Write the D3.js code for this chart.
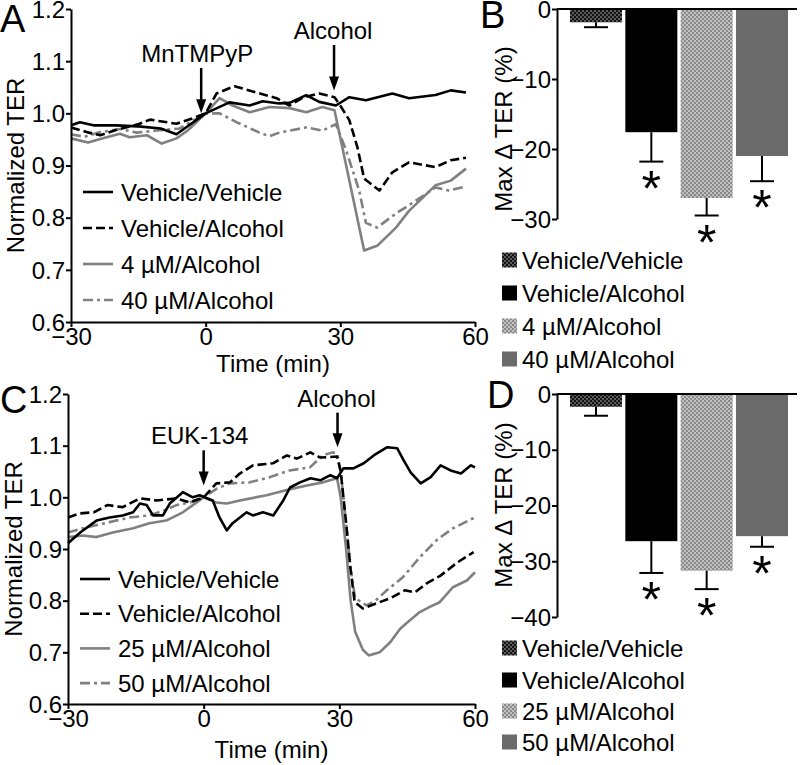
<!DOCTYPE html>
<html><head><meta charset="utf-8">
<script src="https://cdn.jsdelivr.net/npm/d3@7"></script>
<style>
body{margin:0;background:#fff}
svg{display:block;font-family:"Liberation Sans",Arial,sans-serif}
</style>
</head><body>
<svg id="chart" width="800" height="765"></svg>
<script>
// ---------- DATA ----------
const timeTicks = [-30, 0, 30, 60];
const terTicks = [0.6, 0.7, 0.8, 0.9, 1.0, 1.1, 1.2];

// Panel A (MnTMPyP)
const seriesA = ["Vehicle/Vehicle", "Vehicle/Alcohol", "4 µM/Alcohol", "40 µM/Alcohol"];
const aVehVehT = [-30,-28,-25,-20,-15,-10,-6.5,0,3,5.3,9.8,12.7,16.4,18.7,22.4,25.3,29,32,35.7,41.6,45.3,51.2,54.6,58];
const aVehVehV = [0.977,0.983,0.977,0.977,0.975,0.971,0.960,1.0,1.012,1.021,1.015,1.023,1.019,1.02,1.035,1.022,1.015,1.031,1.025,1.038,1.029,1.035,1.044,1.040];
const aVehAlcT = [-30,-26,-23.5,-20,-14.7,-12.4,-6.5,-3,0,2.4,6.4,11.3,15.8,18.7,21.6,25.3,28.7,30.2,32,33.8,35.3,38.7,41.6,45.3,51.2,54.6,58];
const aVehAlcV = [0.973,0.963,0.958,0.968,0.98,0.988,0.98,0.99,1.0,1.038,1.052,1.04,1.029,1.015,1.03,1.038,1.031,1.012,0.987,0.935,0.875,0.852,0.887,0.906,0.897,0.91,0.915];
const a4uMT = [-30,-26.2,-22.9,-19.1,-16.9,-13.1,-9.8,-6.5,-4,0,3.1,6,9.8,14.2,18.7,22.4,26,28.7,35.3,38.2,42.4,45.3,51.2,54.6,58];
const a4uMV = [0.952,0.944,0.952,0.961,0.954,0.958,0.942,0.952,0.967,1.0,1.029,1.015,1.002,1.012,1.01,1.002,1.012,1.006,0.737,0.746,0.781,0.813,0.862,0.871,0.894];
const a40uMT = [-30,-27,-24,-19,-15.3,-11,-5.8,0,3.1,6.9,12,14.2,16.4,22.4,26,29,31.3,34.2,35.7,38.2,42.4,46.9,51.2,54.2,58];
const a40uMV = [0.96,0.955,0.963,0.97,0.963,0.967,0.971,1.0,1.0,0.983,0.963,0.956,0.963,0.973,0.967,0.979,0.929,0.852,0.79,0.781,0.808,0.833,0.858,0.852,0.86];

// Panel C (EUK-134)
const seriesC = ["Vehicle/Vehicle", "Vehicle/Alcohol", "25 µM/Alcohol", "50 µM/Alcohol"];
const cVehVehT = [-30,-27.3,-23.7,-20.8,-17.9,-15.6,-14.1,-12.6,-11.2,-9,-7.5,-4.6,-2.4,-0.9,2,3.5,5.1,6.4,9.5,10.9,13.1,15.4,17.6,19.1,21.3,23.6,25.8,28,29.5,30.9,33.1,35.4,37.6,40.6,42.8,44.2,45.8,48,50.2,52.4,54.6,56.9,59.1,60];
const cVehVehV = [0.911,0.932,0.955,0.961,0.965,0.971,0.988,0.985,0.965,0.965,0.988,1.01,1.0,1.004,0.994,0.961,0.936,0.95,0.971,0.965,0.971,0.965,0.994,1.019,1.029,1.037,1.033,1.043,1.037,1.056,1.056,1.066,1.081,1.097,1.095,1.072,1.048,1.027,1.039,1.062,1.052,1.046,1.062,1.058];
const cVehAlcT = [-30,-27.3,-24.3,-21.3,-17.9,-14.1,-10.4,-6,-3.1,0,2.8,5.8,8,10.9,15.4,18.4,20.6,23.6,25.8,29.5,30.3,31.5,32.5,33.4,35.2,38.3,41.3,44.5,46.7,49.4,52.3,56.1,59.7];
const cVehAlcV = [0.961,0.969,0.971,0.985,0.981,0.998,0.994,0.998,0.99,1.0,1.027,1.029,1.046,1.062,1.066,1.081,1.075,1.087,1.077,1.079,1.05,0.95,0.86,0.797,0.785,0.795,0.805,0.82,0.816,0.834,0.848,0.874,0.894];
const c25uMT = [-30,-26.7,-23.7,-20.1,-15.6,-12,-8.3,-4.6,-2.4,0,2.8,5.1,8,13.9,18.4,22.8,26.4,29.5,30.3,31.5,32.5,33.5,35.2,36.5,38.9,41.3,43.4,45.6,47.8,50,52.2,55.1,58.2,60];
const c25uMV = [0.923,0.926,0.923,0.932,0.94,0.95,0.955,0.971,0.985,1.0,0.99,0.988,0.994,1.004,1.014,1.023,1.029,1.037,1.0,0.9,0.8,0.74,0.705,0.694,0.70,0.72,0.745,0.762,0.778,0.788,0.797,0.826,0.839,0.855];
const c50uMT = [-30,-26.7,-20.8,-16.4,-12,-8.6,-6,-3.1,0,2.9,5.8,10.2,14.6,19,23.5,26.3,28.5,29.5,30.3,31.5,32.5,33.5,36,38,40.5,44,47.8,51.5,55.1,59.5,60];
const c50uMV = [0.932,0.94,0.952,0.961,0.965,0.975,0.985,0.99,1.0,1.017,1.027,1.029,1.039,1.052,1.058,1.081,1.087,1.085,1.05,0.95,0.86,0.805,0.791,0.80,0.82,0.845,0.884,0.917,0.94,0.959,0.961];

// Panel B
const barCatsB = ["Vehicle/Vehicle", "Vehicle/Alcohol", "4 µM/Alcohol", "40 µM/Alcohol"];
const barMeanB = [-1.9, -17.6, -27.0, -21.0];
const barSemB = [0.7, 4.2, 2.5, 3.6];
const barSigB = [false, true, true, true];
const barTicksB = [0, -10, -20, -30];

// Panel D
const barCatsD = ["Vehicle/Vehicle", "Vehicle/Alcohol", "25 µM/Alcohol", "50 µM/Alcohol"];
const barMeanD = [-2.3, -26.4, -31.7, -25.5];
const barSemD = [1.6, 5.7, 3.3, 1.9];
const barSigD = [false, true, true, true];
const barTicksD = [0, -10, -20, -30, -40];

// ---------- DRAWING ----------
const svg = d3.select("#chart");
const FS = 24;
const GRAY = "#808080";

const defs = svg.append("defs");
function checker(id, bg, dot) {
  const p = defs.append("pattern").attr("id", id).attr("patternUnits", "userSpaceOnUse")
    .attr("width", 4).attr("height", 4);
  p.append("rect").attr("width", 4).attr("height", 4).attr("fill", bg);
  p.append("rect").attr("x", 0).attr("y", 0).attr("width", 2).attr("height", 2).attr("fill", dot);
  p.append("rect").attr("x", 2).attr("y", 2).attr("width", 2).attr("height", 2).attr("fill", dot);
}
checker("patDark", "#141414", "#5a5a5a");
checker("patLight", "#c0c0c0", "#8a8a8a");
const barFills = ["url(#patDark)", "#000", "url(#patLight)", "#6b6b6b"];

const lineStyles = [
  {stroke: "#000", dash: null},
  {stroke: "#000", dash: "9,4"},
  {stroke: GRAY, dash: null},
  {stroke: GRAY, dash: "10,4,3,4"}
];

function styleAxis(g) {
  g.select(".domain").attr("stroke", "#000").attr("stroke-width", 2);
  g.selectAll(".tick line").attr("stroke", "#000").attr("stroke-width", 2);
  g.selectAll(".tick text").attr("fill", "#000").style("font-size", FS + "px")
    .style("font-family", "'Liberation Sans', Arial, sans-serif");
}

function arrow(g, x, yTail, yTip) {
  g.append("line").attr("x1", x).attr("x2", x).attr("y1", yTail).attr("y2", yTip - 10)
    .attr("stroke", "#000").attr("stroke-width", 2.5);
  g.append("path").attr("d", `M${x - 5},${yTip - 14}L${x + 5},${yTip - 14}L${x},${yTip}Z`).attr("fill", "#000");
}

function linePanel(cfg) {
  const g = svg.append("g");
  const x = d3.scaleLinear().domain([-30, 60]).range([cfg.x0, cfg.x1]);
  const y = d3.scaleLinear().domain([0.6, 1.2]).range([cfg.yb, cfg.yt]);

  const line = d3.line().x(d => x(d[0])).y(d => y(d[1]));
  const order = [3, 2, 1, 0];
  order.forEach(i => {
    const s = cfg.series[i];
    g.append("path").datum(d3.zip(s.t, s.v)).attr("d", line)
      .attr("fill", "none").attr("stroke", lineStyles[i].stroke).attr("stroke-width", 2.6)
      .attr("stroke-dasharray", lineStyles[i].dash).attr("stroke-linejoin", "round");
  });

  const gx = g.append("g").attr("transform", `translate(0,${cfg.yb})`)
    .call(d3.axisBottom(x).tickValues(timeTicks).tickFormat(d3.format("d")).tickSize(5).tickSizeOuter(0).tickPadding(0));
  styleAxis(gx);
  gx.selectAll(".tick text").attr("dy", "0.74em");
  const gy = g.append("g").attr("transform", `translate(${cfg.x0},0)`)
    .call(d3.axisLeft(y).tickValues(terTicks).tickFormat(d3.format(".1f")).tickSize(5).tickSizeOuter(0).tickPadding(1));
  styleAxis(gy);
  gy.selectAll(".tick text").attr("dy", "0.34em");

  g.append("text").attr("x", (cfg.x0 + cfg.x1) / 2).attr("y", cfg.xTitleY).attr("text-anchor", "middle")
    .style("font-size", FS + "px").text("Time (min)");
  g.append("text").attr("transform", `translate(${cfg.yTitleX},${(cfg.yb + cfg.yt) / 2}) rotate(-90)`)
    .attr("text-anchor", "middle").style("font-size", FS + "px").text("Normalized TER");

  g.append("text").attr("x", cfg.letterX).attr("y", cfg.letterY).style("font-size", "38px").text(cfg.letter);

  cfg.notes.forEach(n => {
    arrow(g, x(n.t), y(n.tail), y(n.tip));
    g.append("text").attr("x", x(n.t) + n.dx).attr("y", y(n.tail) - 6).attr("text-anchor", "middle")
      .style("font-size", FS + "px").text(n.label);
  });

  cfg.names.forEach((name, i) => {
    const ly = cfg.legY + i * cfg.legStep;
    g.append("line").attr("x1", cfg.legX).attr("x2", cfg.legX + 30).attr("y1", ly).attr("y2", ly)
      .attr("stroke", lineStyles[i].stroke).attr("stroke-width", 2.6).attr("stroke-dasharray", lineStyles[i].dash);
    g.append("text").attr("x", cfg.legX + 38).attr("y", ly + 8.5).style("font-size", FS + "px").text(name);
  });
}

function barPanel(cfg) {
  const g = svg.append("g");
  const x = d3.scaleBand().domain(cfg.cats).range([557, 801]).paddingInner(0.06).paddingOuter(0.235);
  const y = d3.scaleLinear().domain([cfg.ymin, 0]).range([cfg.yb, cfg.yt]);
  const bw = x.bandwidth();

  cfg.cats.forEach((c, i) => {
    const v = cfg.mean[i], e = cfg.sem[i];
    const cx = x(c) + bw / 2;
    g.append("rect").attr("x", x(c)).attr("y", y(0)).attr("width", bw).attr("height", y(v) - y(0))
      .attr("fill", barFills[i]);
    g.append("line").attr("x1", cx).attr("x2", cx).attr("y1", y(v)).attr("y2", y(v - e))
      .attr("stroke", "#000").attr("stroke-width", 2);
    g.append("line").attr("x1", cx - 12).attr("x2", cx + 12).attr("y1", y(v - e)).attr("y2", y(v - e))
      .attr("stroke", "#000").attr("stroke-width", 2);
    if (cfg.sig[i]) {
      g.append("text").attr("x", cx).attr("y", y(v - e) + 44).attr("text-anchor", "middle")
        .style("font-size", "50px").text("*");
    }
  });

  g.append("line").attr("x1", 557).attr("x2", 797).attr("y1", y(0)).attr("y2", y(0))
    .attr("stroke", "#000").attr("stroke-width", 2);
  const gy = g.append("g").attr("transform", "translate(557,0)")
    .call(d3.axisLeft(y).tickValues(cfg.ticks).tickFormat(d3.format("d")).tickSize(5).tickSizeOuter(0).tickPadding(1));
  styleAxis(gy);
  gy.selectAll(".tick text").attr("dy", "0.34em");

  g.append("text").attr("transform", `translate(512,${cfg.yTitleC}) rotate(-90)`)
    .attr("text-anchor", "middle").style("font-size", FS + "px").text("Max \u0394 TER (%)");

  g.append("text").attr("x", cfg.letterX).attr("y", cfg.letterY).style("font-size", "38px").text(cfg.letter);

  cfg.cats.forEach((c, i) => {
    const cy = cfg.legY[i];
    g.append("rect").attr("x", 502).attr("y", cy - 7.5).attr("width", 15).attr("height", 15).attr("fill", barFills[i]);
    g.append("text").attr("x", 522).attr("y", cy + 8.5).style("font-size", FS + "px").text(c);
  });
}

linePanel({
  x0: 71, x1: 475, yb: 322, yt: 9, xTitleY: 372, yTitleX: 24,
  letter: "A", letterX: 0, letterY: 32,
  series: [{t: aVehVehT, v: aVehVehV}, {t: aVehAlcT, v: aVehAlcV}, {t: a4uMT, v: a4uMV}, {t: a40uMT, v: a40uMV}],
  names: seriesA,
  notes: [{t: -1, tail: 1.087, tip: 1.0, label: "MnTMPyP", dx: -4},
          {t: 28.6, tail: 1.131, tip: 1.044, label: "Alcohol", dx: -1}],
  legX: 83, legY: 192, legStep: 36
});

linePanel({
  x0: 68, x1: 475, yb: 704, yt: 394, xTitleY: 758, yTitleX: 22,
  letter: "C", letterX: 0, letterY: 413,
  series: [{t: cVehVehT, v: cVehVehV}, {t: cVehAlcT, v: cVehAlcV}, {t: c25uMT, v: c25uMV}, {t: c50uMT, v: c50uMV}],
  names: seriesC,
  notes: [{t: 0, tail: 1.091, tip: 1.023, label: "EUK-134", dx: -4},
          {t: 29.6, tail: 1.164, tip: 1.097, label: "Alcohol", dx: -1}],
  legX: 80, legY: 579, legStep: 34.7
});

barPanel({
  cats: barCatsB, mean: barMeanB, sem: barSemB, sig: barSigB, ticks: barTicksB,
  ymin: -30, yb: 219, yt: 9, yTitleC: 129,
  letter: "B", letterX: 480, letterY: 28,
  legY: [260, 293, 326, 359]
});

barPanel({
  cats: barCatsD, mean: barMeanD, sem: barSemD, sig: barSigD, ticks: barTicksD,
  ymin: -40, yb: 617, yt: 394, yTitleC: 505,
  letter: "D", letterX: 487, letterY: 408,
  legY: [648, 680, 711, 742]
});
</script>
</body></html>
